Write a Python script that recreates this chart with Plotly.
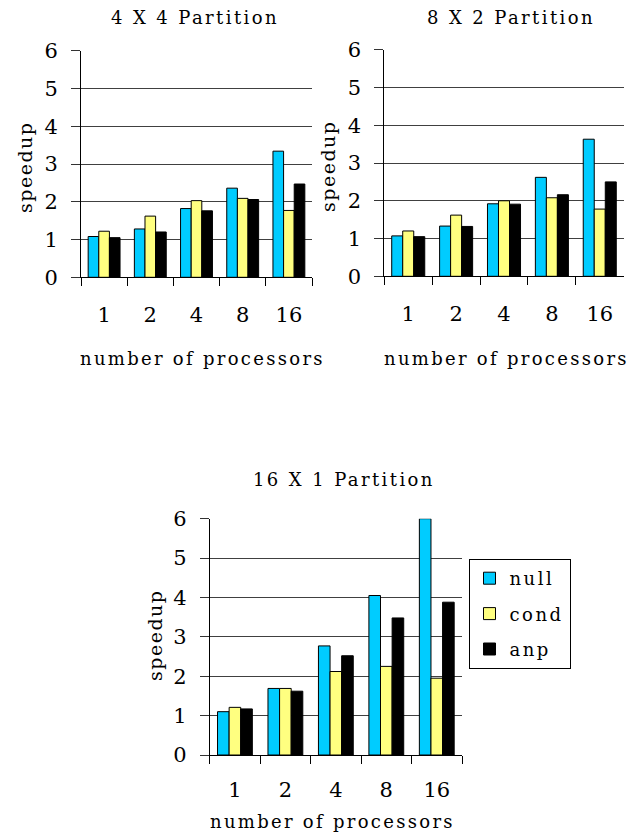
import plotly.graph_objects as go

categories = ["1", "2", "4", "8", "16"]
series_names = ["null", "cond", "anp"]
colors = ["#00CCFF", "#FFFF80", "#000000"]

p44_null = [1.08, 1.28, 1.82, 2.36, 3.34]
p44_cond = [1.22, 1.62, 2.03, 2.09, 1.77]
p44_anp = [1.05, 1.20, 1.76, 2.06, 2.47]

p82_null = [1.07, 1.33, 1.92, 2.62, 3.63]
p82_cond = [1.20, 1.62, 2.00, 2.08, 1.78]
p82_anp = [1.05, 1.32, 1.91, 2.16, 2.50]

p161_null = [1.10, 1.69, 2.77, 4.05, 6.00]
p161_cond = [1.21, 1.69, 2.12, 2.25, 1.95]
p161_anp = [1.17, 1.62, 2.52, 3.48, 3.88]

y_ticks = [0, 1, 2, 3, 4, 5, 6]
titles = ["4 X 4 Partition", "8 X 2 Partition", "16 X 1 Partition"]

FONT = "DejaVu Serif"


def spaced(t, px):
    return f'<span style="letter-spacing:{px}px">{t}</span>'


W, H = 644, 834
panels = [
    dict(data=[p44_null, p44_cond, p44_anp], px=(81, 312), py=(50.7, 277.3),
         title_xy=(195, 18), sp_xy=(25, 167), xl_xy=(202, 358), stand=18),
    dict(data=[p82_null, p82_cond, p82_anp], px=(384.3, 623.7), py=(49.7, 276.3),
         title_xy=(511, 18), sp_xy=(328, 167), xl_xy=(506, 358), stand=18),
    dict(data=[p161_null, p161_cond, p161_anp], px=(209.7, 462), py=(518.7, 755),
         title_xy=(344, 479), sp_xy=(155, 636), xl_xy=(333, 821), stand=16),
]

fig = go.Figure()
annotations = []
layout = {}

for i, p in enumerate(panels):
    n = "" if i == 0 else str(i + 1)
    xa, ya = "x" + n, "y" + n
    for s, (name, vals) in enumerate(zip(series_names, p["data"])):
        fig.add_trace(go.Bar(
            x=categories, y=vals, name=spaced(name, 2.5), xaxis=xa, yaxis=ya,
            marker=dict(color=colors[s], line=dict(color="black", width=1)),
            showlegend=(i == 2), legendgroup=name,
        ))
    layout["xaxis" + n] = dict(
        domain=[p["px"][0] / W, p["px"][1] / W], anchor=ya, automargin=False,
        type="category", tickson="boundaries", ticks="outside", ticklen=8,
        tickcolor="black", tickwidth=1, showline=True, linecolor="black",
        linewidth=1, showgrid=False,
        tickfont=dict(family=FONT, size=21, color="black"),
        ticklabelstandoff=p["stand"], fixedrange=True,
    )
    layout["yaxis" + n] = dict(
        domain=[1 - p["py"][1] / H, 1 - p["py"][0] / H], anchor=xa,
        automargin=False,
        range=[0, 6], tickvals=y_ticks, ticks="outside", ticklen=9,
        tickcolor="#333333", tickwidth=1, showline=True, linecolor="black",
        linewidth=1, showgrid=True, gridcolor="#404040", gridwidth=1,
        zeroline=False, tickfont=dict(family=FONT, size=21, color="black"),
        ticklabelstandoff=9, fixedrange=True,
    )
    annotations.append(dict(text=spaced(titles[i], 2.4), x=p["title_xy"][0] / W,
                            y=1 - p["title_xy"][1] / H, xref="paper", yref="paper",
                            showarrow=False, xanchor="center", yanchor="middle",
                            font=dict(family=FONT, size=18, color="black")))
    annotations.append(dict(text=spaced("speedup", 1.5), x=p["sp_xy"][0] / W,
                            y=1 - p["sp_xy"][1] / H, xref="paper", yref="paper",
                            showarrow=False, textangle=-90, xanchor="center",
                            yanchor="middle",
                            font=dict(family=FONT, size=19, color="black")))
    annotations.append(dict(text=spaced("number of processors", 2.3),
                            x=p["xl_xy"][0] / W, y=1 - p["xl_xy"][1] / H,
                            xref="paper", yref="paper", showarrow=False,
                            xanchor="center", yanchor="middle",
                            font=dict(family=FONT, size=18, color="black")))

fig.update_layout(
    width=W, height=H, margin=dict(l=0, r=0, t=0, b=0, pad=0, autoexpand=False),
    paper_bgcolor="white", plot_bgcolor="white",
    barmode="group", bargap=0.31, bargroupgap=0,
    annotations=annotations,
    font=dict(family=FONT),
    legend=dict(x=468.5 / W, y=1 - 559 / H, xanchor="left", yanchor="top",
                bordercolor="black", borderwidth=1, bgcolor="white",
                font=dict(family=FONT, size=18, color="black"),
                tracegroupgap=9, itemwidth=30),
    **layout,
)

fig.write_html("out.html", config={"displayModeBar": False},
               post_script="document.body.style.margin='0';")
